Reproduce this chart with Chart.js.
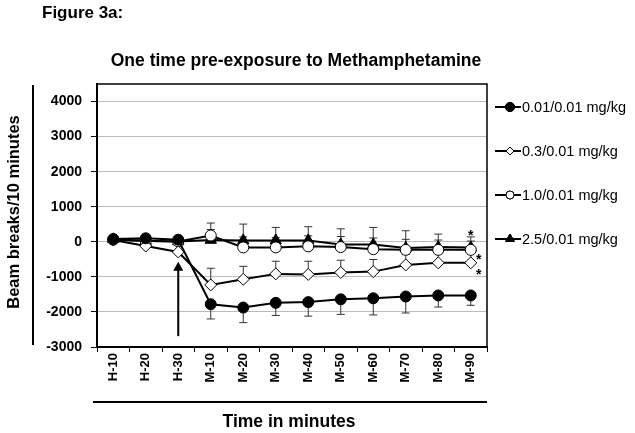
<!DOCTYPE html>
<html>
<head>
<meta charset="utf-8">
<script src="https://cdn.jsdelivr.net/npm/chart.js@4.4.1/dist/chart.umd.min.js"></script>
<style>
  html, body { margin: 0; padding: 0; background: #fff; }
  #wrap { width: 635px; height: 433px; position: relative; }
</style>
</head>
<body>
<div id="wrap"><canvas id="fig3a"></canvas></div>
<script>
var categories = ['H-10', 'H-20', 'H-30', 'M-10', 'M-20', 'M-30', 'M-40', 'M-50', 'M-60', 'M-70', 'M-80', 'M-90'];

var dose001 = [80, 100, 60, -1780, -1875, -1740, -1720, -1640, -1610, -1560, -1530, -1530];
var dose001Err = [40, 40, 40, 420, 430, 360, 400, 430, 475, 470, 330, 280];

var dose03 = [50, -120, -290, -1230, -1070, -915, -930, -875, -850, -660, -600, -600];
var dose03Err = [40, 40, 40, 475, 370, 360, 375, 350, 345, 300, 300, 300];

var dose10 = [60, 30, 10, 180, -160, -160, -130, -150, -210, -230, -230, -230];
var dose10Err = [40, 40, 40, 355, 300, 280, 300, 300, 320, 300, 280, 250];

var dose25 = [70, 20, 10, 50, 40, 40, 40, -75, -75, -180, -150, -160];
var dose25Err = [40, 40, 40, 300, 465, 370, 390, 445, 485, 495, 370, 300];

var yTicks = [-3000, -2000, -1000, 0, 1000, 2000, 3000, 4000];

// significance stars at M-90: [value, x shift in px]
var stars = [[250, 0], [-430, 8], [-860, 8]];
// arrow at H-30, from / to values
var arrowFrom = -2690, arrowTo = -570;

var FONT = "'Liberation Sans', Arial, sans-serif";

document.addEventListener('DOMContentLoaded', function() {
    var ctx = document.getElementById('fig3a').getContext('2d');

    var errorBars = {
        id: 'errorBars',
        beforeDatasetsDraw: function(chart) {
            var c = chart.ctx, y = chart.scales.y;
            c.save();
            c.strokeStyle = '#333';
            c.lineWidth = 1;
            chart.data.datasets.forEach(function(ds, i) {
                var meta = chart.getDatasetMeta(i);
                meta.data.forEach(function(pt, j) {
                    var v = ds.data[j] + ds.errDir * ds.err[j];
                    var yy = y.getPixelForValue(v);
                    c.beginPath();
                    c.moveTo(pt.x, pt.y);
                    c.lineTo(pt.x, yy);
                    c.moveTo(pt.x - 4, yy);
                    c.lineTo(pt.x + 4, yy);
                    c.stroke();
                });
            });
            c.restore();
        }
    };

    var decorations = {
        id: 'decorations',
        afterDraw: function(chart) {
            var c = chart.ctx, a = chart.chartArea;
            var x = chart.scales.x, y = chart.scales.y;
            c.save();
            // plot box top and right
            c.strokeStyle = '#000';
            c.lineWidth = 1.5;
            c.beginPath();
            c.moveTo(a.left, a.top);
            c.lineTo(a.right, a.top);
            c.lineTo(a.right, a.bottom);
            c.stroke();

            c.fillStyle = '#000';
            c.textBaseline = 'alphabetic';
            c.textAlign = 'left';
            c.font = 'bold 17px ' + FONT;
            c.fillText('Figure 3a:', 42, 18);

            c.textBaseline = 'middle';
            c.textAlign = 'center';
            c.font = 'bold 17.5px ' + FONT;
            c.fillText('One time pre-exposure to Methamphetamine', 296, 61);
            c.fillText('Time in minutes', 289, 422);

            c.save();
            c.translate(14, 212);
            c.rotate(-Math.PI / 2);
            c.font = 'bold 16.5px ' + FONT;
            c.fillText('Beam breaks/10 minutes', 0, 0);
            c.restore();

            // axis title rules
            c.lineWidth = 2;
            c.beginPath();
            c.moveTo(33, 85);
            c.lineTo(33, 345);
            c.moveTo(93, 402);
            c.lineTo(487, 402);
            c.stroke();

            // arrow
            var ax = x.getPixelForValue(2);
            var y0 = y.getPixelForValue(arrowFrom), y1 = y.getPixelForValue(arrowTo);
            c.lineWidth = 2;
            c.beginPath();
            c.moveTo(ax, y0);
            c.lineTo(ax, y1 + 4);
            c.stroke();
            c.beginPath();
            c.moveTo(ax, y1);
            c.lineTo(ax - 5, y1 + 9);
            c.lineTo(ax + 5, y1 + 9);
            c.closePath();
            c.fill();

            // stars
            var sx = x.getPixelForValue(categories.length - 1);
            c.font = 'bold 14px ' + FONT;
            stars.forEach(function(s) {
                c.fillText('*', sx + s[1], y.getPixelForValue(s[0]) + 3);
            });

            // legend
            c.textAlign = 'left';
            c.font = '14.5px ' + FONT;
            var ly = [107, 151, 195, 239];
            chart.data.datasets.forEach(function(ds, i) {
                c.strokeStyle = '#000';
                c.lineWidth = 2;
                c.beginPath();
                c.moveTo(495, ly[i]);
                c.lineTo(521, ly[i]);
                c.stroke();
                c.fillStyle = ds.pointBackgroundColor;
                c.lineWidth = 1;
                Chart.helpers.drawPoint(c, {
                    pointStyle: ds.pointStyle,
                    radius: ds.legendRadius,
                    borderWidth: 1
                }, 510, ly[i]);
                c.fill();
                c.stroke();
                c.fillStyle = '#000';
                c.fillText(ds.label, 522, ly[i] + 1);
            });
            c.restore();
        }
    };

    new Chart(ctx, {
        type: 'line',
        data: {
            labels: categories,
            datasets: [{
                label: '0.01/0.01 mg/kg',
                data: dose001, err: dose001Err, errDir: -1,
                pointStyle: 'circle', pointRadius: 5.5, legendRadius: 4.5,
                pointBackgroundColor: '#000'
            }, {
                label: '0.3/0.01 mg/kg',
                data: dose03, err: dose03Err, errDir: 1,
                pointStyle: 'rectRot', pointRadius: 6, legendRadius: 4,
                pointBackgroundColor: '#fff'
            }, {
                label: '1.0/0.01 mg/kg',
                data: dose10, err: dose10Err, errDir: 1,
                pointStyle: 'circle', pointRadius: 5.5, legendRadius: 4,
                pointBackgroundColor: '#fff'
            }, {
                label: '2.5/0.01 mg/kg',
                data: dose25, err: dose25Err, errDir: 1,
                pointStyle: 'triangle', pointRadius: 6.5, legendRadius: 5,
                pointBackgroundColor: '#000'
            }].map(function(d) {
                d.borderColor = '#000';
                d.borderWidth = 2;
                d.pointBorderColor = '#000';
                d.pointBorderWidth = 1;
                d.tension = 0;
                return d;
            })
        },
        options: {
            responsive: true,
            maintainAspectRatio: false,
            animation: false,
            layout: { padding: { left: 0, right: 148, top: 84, bottom: 0 } },
            plugins: {
                legend: { display: false },
                tooltip: { enabled: false }
            },
            scales: {
                x: {
                    offset: true,
                    afterFit: function(s) { s.height = 86; },
                    grid: {
                        offset: true,
                        drawOnChartArea: false,
                        tickLength: 5,
                        tickColor: '#000',
                        lineWidth: 1
                    },
                    border: { color: '#000', width: 2 },
                    ticks: {
                        minRotation: 90, maxRotation: 90, autoSkip: false,
                        padding: 1,
                        color: '#000',
                        font: { family: FONT, size: 13, weight: 'bold' }
                    }
                },
                y: {
                    min: -3000, max: 4500,
                    afterFit: function(s) { s.width = 97; },
                    afterBuildTicks: function(s) {
                        s.ticks = yTicks.map(function(v) { return { value: v }; });
                    },
                    grid: {
                        color: '#bbb',
                        tickColor: '#000',
                        tickLength: 6,
                        lineWidth: 1
                    },
                    border: { color: '#000', width: 2 },
                    ticks: {
                        padding: 9,
                        color: '#000',
                        callback: function(v) { return String(v); },
                        font: { family: FONT, size: 14, weight: 'bold' }
                    }
                }
            }
        },
        plugins: [errorBars, decorations]
    });
});
</script>
</body>
</html>
